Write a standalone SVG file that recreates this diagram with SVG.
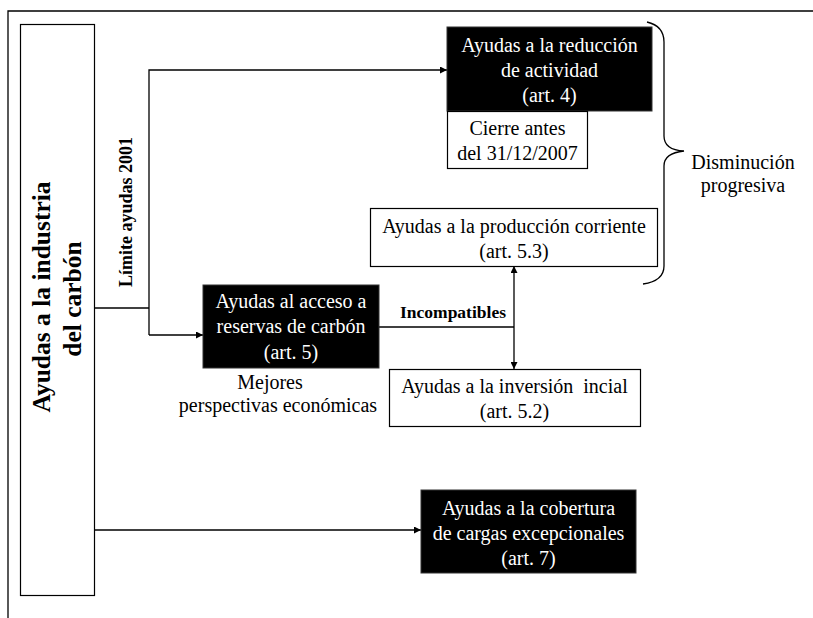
<svg xmlns="http://www.w3.org/2000/svg" width="813" height="618" viewBox="0 0 813 618">
  <style>
    text { font-family: "Liberation Serif", "Times New Roman", serif; font-size: 20px; text-anchor: middle; }
    .inv { fill: #ffffff; }
    .blk { fill: #000000; }
    .bold { font-weight: bold; }
    .dark { fill: #000000; stroke: #333333; stroke-width: 1; }
    .light { fill: #ffffff; stroke: #000000; stroke-width: 1.2; }
    .wire { fill: none; stroke: #000000; stroke-width: 1.3; }
  </style>
  <defs>
    <marker id="arrow" viewBox="0 0 10 10" refX="10" refY="5" markerWidth="7" markerHeight="7" markerUnits="userSpaceOnUse" orient="auto">
      <path d="M0,0 L10,5 L0,10 Z" fill="#000000"/>
    </marker>
  </defs>

  <rect width="813" height="618" fill="#ffffff"/>

  <!-- page frame -->
  <path class="wire" d="M8,618 V11 H813" stroke-width="1.5"/>

  <!-- connectors -->
  <g id="connectors">
    <path class="wire" d="M95,308 H149"/>
    <path class="wire" d="M149,335 V70 H447" marker-end="url(#arrow)"/>
    <path class="wire" d="M149,335 H203" marker-end="url(#arrow)"/>
    <path class="wire" d="M95,530 H421" marker-end="url(#arrow)"/>
    <path class="wire" d="M379,327 H514"/>
    <path class="wire" d="M514,327 V266" marker-end="url(#arrow)"/>
    <path class="wire" d="M514,327 V369" marker-end="url(#arrow)"/>
    <text class="blk bold" x="453" y="318" style="font-size:17.5px">Incompatibles</text>
    <text class="blk bold" style="font-size:18px" transform="translate(132,212) rotate(-90)">Límite ayudas 2001</text>
  </g>

  <!-- main sector -->
  <g id="industria">
    <rect class="light" x="20.5" y="24.5" width="74" height="571"/>
    <text class="blk bold" style="font-size:25.5px" transform="translate(50,297) rotate(-90)">Ayudas a la industria</text>
    <text class="blk bold" style="font-size:25.5px" transform="translate(81,299) rotate(-90)">del carbón</text>
  </g>

  <g id="reduccion">
    <rect class="dark" x="447" y="27" width="205" height="84"/>
    <text class="inv" x="549.5" y="52">Ayudas a la reducción</text>
    <text class="inv" x="549.5" y="77">de actividad</text>
    <text class="inv" x="549.5" y="102">(art. 4)</text>
  </g>

  <g id="cierre">
    <rect class="light" x="447.5" y="111.5" width="140" height="57"/>
    <text class="blk" x="517.5" y="135">Cierre antes</text>
    <text class="blk" x="517.5" y="160">del 31/12/2007</text>
  </g>

  <g id="produccion">
    <rect class="light" x="370.5" y="208.5" width="287" height="58"/>
    <text class="blk" x="514" y="233">Ayudas a la producción corriente</text>
    <text class="blk" x="514" y="258">(art. 5.3)</text>
  </g>

  <g id="acceso">
    <rect class="dark" x="203" y="285" width="176" height="83"/>
    <text class="inv" x="291" y="308">Ayudas al acceso a</text>
    <text class="inv" x="291" y="333">reservas de carbón</text>
    <text class="inv" x="291" y="359">(art. 5)</text>
  </g>

  <g id="perspectivas">
    <text class="blk" x="270" y="389">Mejores</text>
    <text class="blk" x="278" y="412">perspectivas económicas</text>
  </g>

  <g id="inversion">
    <rect class="light" x="389.5" y="369.5" width="251" height="57"/>
    <text class="blk" x="514.5" y="393" xml:space="preserve">Ayudas a la inversión  incial</text>
    <text class="blk" x="514.5" y="418">(art. 5.2)</text>
  </g>

  <g id="cobertura">
    <rect class="dark" x="421" y="490" width="215" height="83"/>
    <text class="inv" x="528.5" y="515">Ayudas a la cobertura</text>
    <text class="inv" x="528.5" y="540">de cargas excepcionales</text>
    <text class="inv" x="528.5" y="565">(art. 7)</text>
  </g>

  <!-- brace grouping the decreasing aids -->
  <g id="disminucion">
    <path class="wire" d="M647,22 Q664,26 664,42 V136 Q664,150 684,151 Q664,153 664,166 V266 Q664,281 643,284"/>
    <text class="blk" x="743" y="169">Disminución</text>
    <text class="blk" x="743" y="192">progresiva</text>
  </g>
</svg>
